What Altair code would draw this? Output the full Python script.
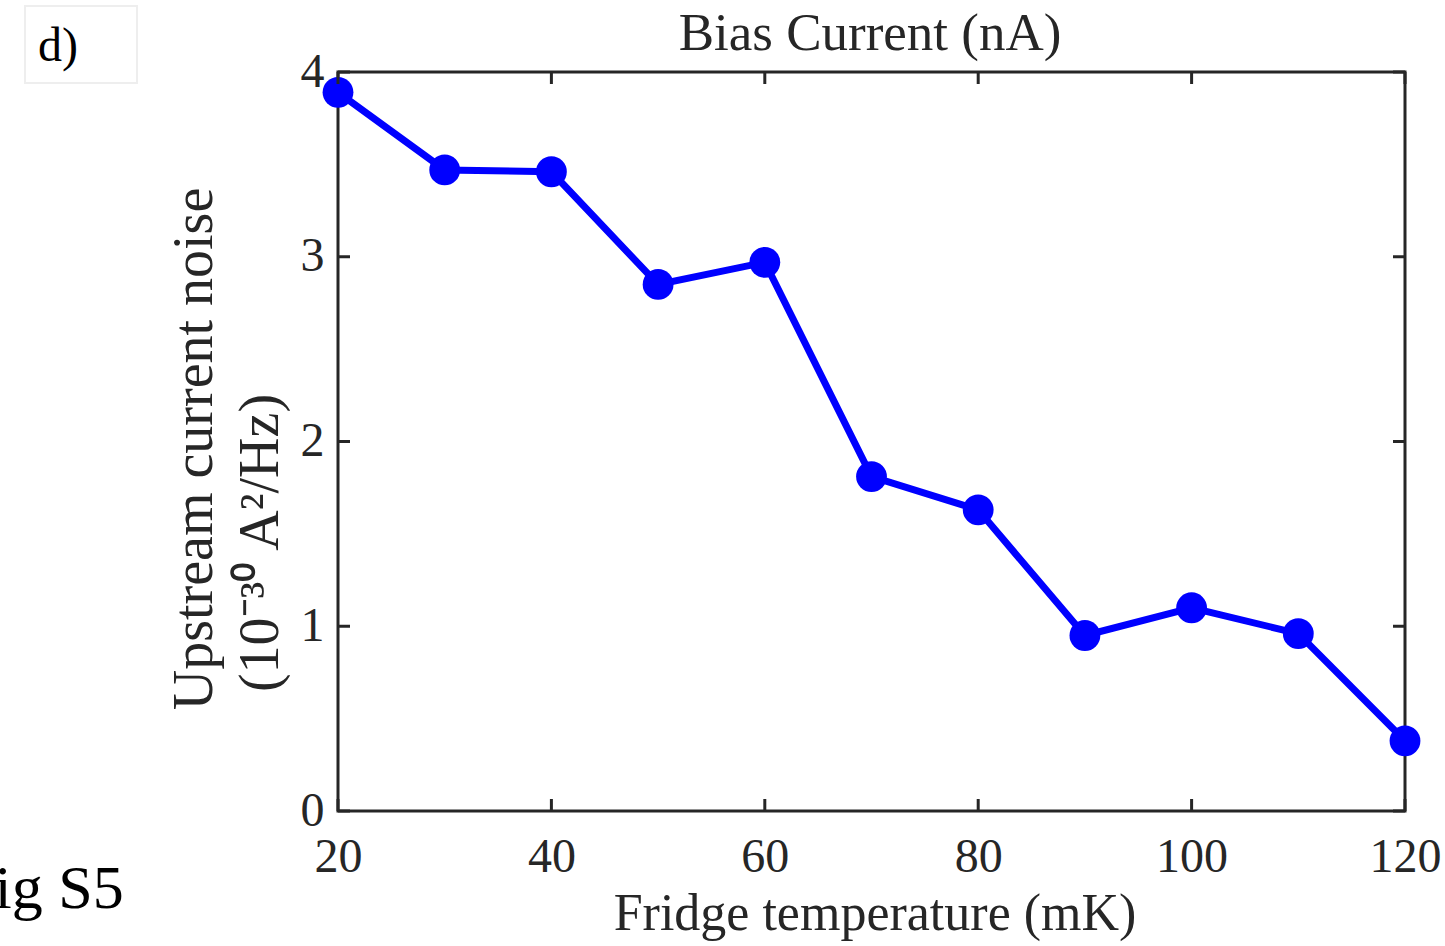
import altair as alt
import pandas as pd

# Upstream current noise versus fridge temperature
temperature_mk = [20, 30, 40, 50, 60, 70, 80, 90, 100, 110, 120]
noise = [3.89, 3.47, 3.46, 2.85, 2.97, 1.81, 1.63, 0.95, 1.10, 0.96, 0.38]

x_ticks = [20, 40, 60, 80, 100, 120]
y_ticks = [0, 1, 2, 3, 4]

W, H = 1067, 739
LEFT, TOP = 338, 72
TICK = 12
INK = "#262626"
FONT = "Liberation Serif"

df = pd.DataFrame({"T": temperature_mk, "N": noise})
xt = pd.DataFrame({"v": x_ticks})
yt = pd.DataFrame({"v": y_ticks})

xscale = alt.Scale(domain=[20, 120], nice=False, zero=False)
yscale = alt.Scale(domain=[0, 4], nice=False)

x_axis = alt.Axis(
    values=x_ticks, tickSize=0, grid=False, domain=False, labelFlush=False,
    labelFontSize=48, labelFont=FONT, labelColor=INK, labelPadding=22,
    format="d", title=None,
)
y_axis = alt.Axis(
    values=y_ticks, tickSize=0, grid=False, domain=False, labelFlush=False,
    labelFontSize=48, labelFont=FONT, labelColor=INK, labelPadding=14,
    format="d", title=None,
)

line = alt.Chart(df).mark_line(color="#0000FF", strokeWidth=7).encode(
    x=alt.X("T:Q", scale=xscale, axis=x_axis),
    y=alt.Y("N:Q", scale=yscale, axis=y_axis),
)
points = alt.Chart(df).mark_circle(color="#0000FF", opacity=1, size=950).encode(
    x=alt.X("T:Q", scale=xscale),
    y=alt.Y("N:Q", scale=yscale),
)

# inward-pointing ticks on all four sides
tick_style = dict(color=INK, strokeWidth=3)
bottom_ticks = alt.Chart(xt).mark_rule(**tick_style).encode(
    x=alt.X("v:Q", scale=xscale), y=alt.value(H), y2=alt.value(H - TICK))
top_ticks = alt.Chart(xt).mark_rule(**tick_style).encode(
    x=alt.X("v:Q", scale=xscale), y=alt.value(0), y2=alt.value(TICK))
left_ticks = alt.Chart(yt).mark_rule(**tick_style).encode(
    y=alt.Y("v:Q", scale=yscale), x=alt.value(0), x2=alt.value(TICK))
right_ticks = alt.Chart(yt).mark_rule(**tick_style).encode(
    y=alt.Y("v:Q", scale=yscale), x=alt.value(W), x2=alt.value(W - TICK))


def label(text, x, y, size, angle=0, color=INK, align="center"):
    return alt.Chart(pd.DataFrame({"t": [text]})).mark_text(
        font=FONT, fontSize=size, color=color, baseline="middle",
        align=align, angle=angle,
    ).encode(x=alt.value(x - LEFT), y=alt.value(y - TOP), text="t:N")


top_title = label("Bias Current (nA)", 870, 34, 53)
x_title = label("Fridge temperature (mK)", 875, 914, 52)
y_title1 = label("Upstream current noise", 195, 449, 56, angle=270)
y_title2 = label("(10⁻³⁰ A²/Hz)", 261, 543, 56, angle=270)

panel_box = alt.Chart(pd.DataFrame({"a": [0]})).mark_rect(
    fill="white", stroke="#eeeeee", strokeWidth=2
).encode(x=alt.value(25 - LEFT), x2=alt.value(137 - LEFT),
         y=alt.value(6 - TOP), y2=alt.value(83 - TOP))
panel_label = label("d)", 38, 47, 48, color="black", align="left")
fig_label = label("Fig S5", -40, 889, 62, color="black", align="left")

chart = alt.layer(
    line, points, bottom_ticks, top_ticks, left_ticks, right_ticks,
    top_title, x_title, y_title1, y_title2, panel_box, panel_label, fig_label,
).properties(
    width=W, height=H,
    autosize=alt.AutoSizeParams(type="none"),
    padding={"left": LEFT, "top": TOP, "right": 40, "bottom": 135},
).configure(
    background="white",
).configure_view(
    stroke=INK, strokeWidth=3,
)

chart.save("out.html", embed_options={"renderer": "svg", "actions": False})
